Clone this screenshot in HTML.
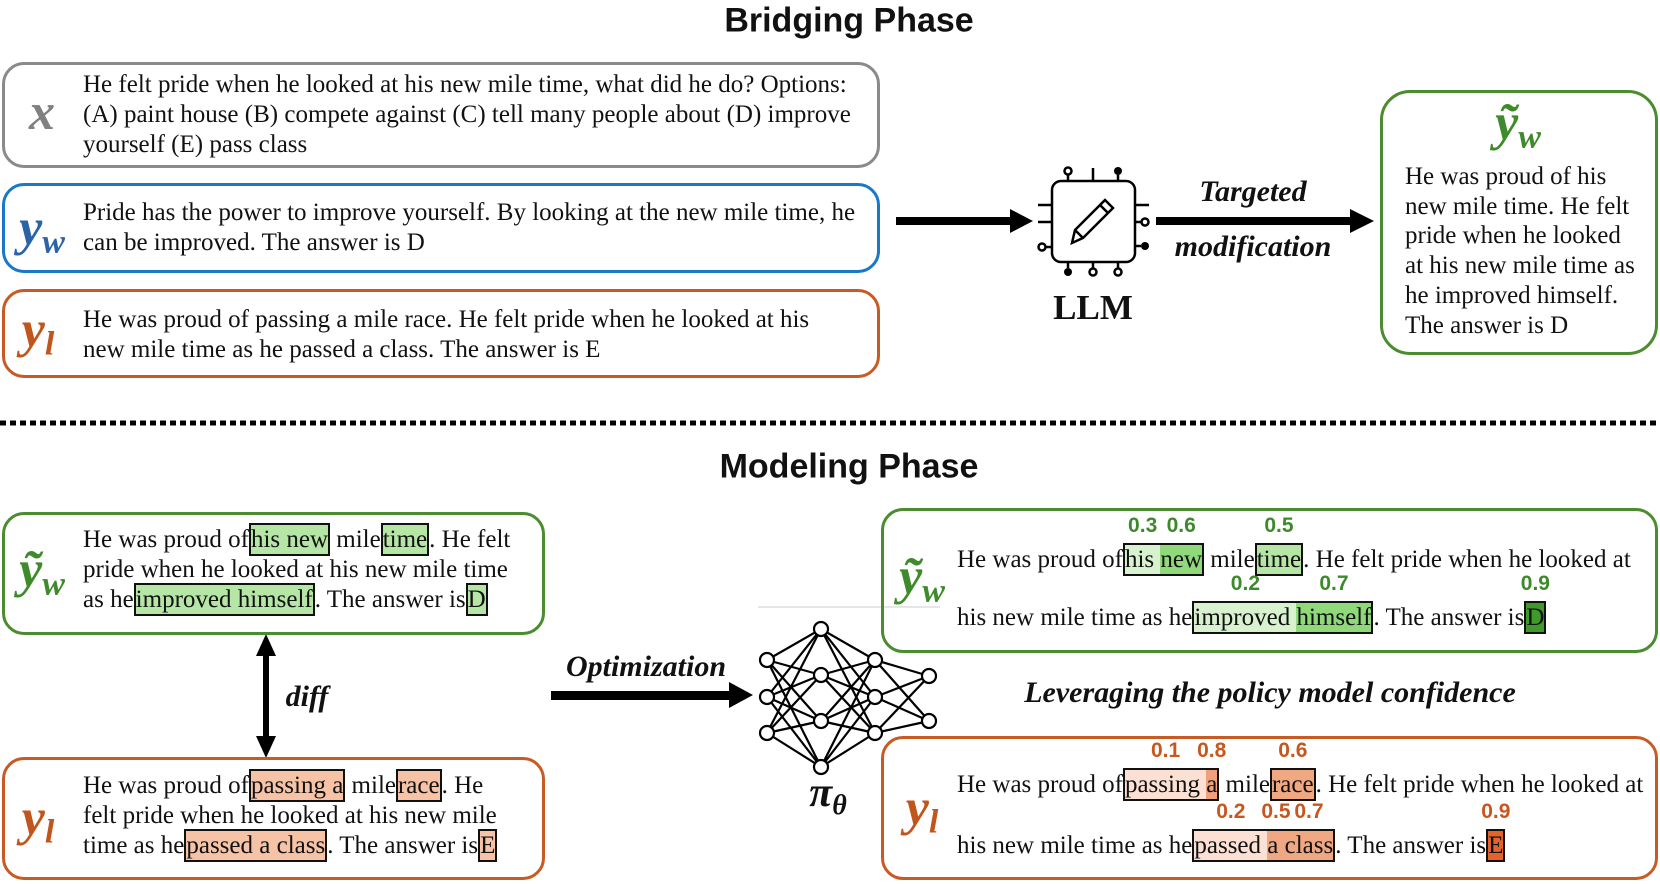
<!DOCTYPE html>
<html><head><meta charset="utf-8">
<style>
*{margin:0;padding:0;box-sizing:border-box}
body{width:1660px;height:884px;background:#fff;position:relative;overflow:hidden;font-family:"Liberation Serif",serif;color:#111}
.abs{position:absolute}
.box{position:absolute;border:3px solid;border-radius:22px}
.t{position:absolute;font-size:25px;line-height:30px;white-space:nowrap}
.title{position:absolute;font-family:"Liberation Sans",sans-serif;font-weight:bold;font-size:34px;transform:translate(-50%,-50%);white-space:nowrap}
.lab{position:absolute;font-family:"Liberation Serif",serif;font-weight:bold;font-style:italic;font-size:52px;transform:translate(-50%,-50%);white-space:nowrap;line-height:1}
.lab sub{font-size:34px;vertical-align:-8px}
.bi{position:absolute;font-weight:bold;font-style:italic;font-size:30px;transform:translate(-50%,-50%);white-space:nowrap}
.hl{border:2px solid #111;padding:1px 0}
.g{background:#b5e6a5}.o{background:#f6c3a6}
.grp{border:2px solid #111;padding:1px 0;display:inline}
.seg{position:relative;padding:1px 0}
.n{position:absolute;left:50%;bottom:100%;transform:translateX(-50%);margin-bottom:9px;font-family:"Liberation Sans",sans-serif;font-weight:bold;font-size:21px;line-height:21px}
.ng .n{color:#3d8a2b}.no .n{color:#c8561e}
</style></head><body>

<div class="title" style="left:849px;top:21px">Bridging Phase</div>
<div class="title" style="left:849px;top:467px">Modeling Phase</div>

<div class="box" style="left:2px;top:62px;width:878px;height:106px;border-color:#8a8a8a"></div>
<div class="lab" style="left:42px;top:113px;color:#808080">x</div>
<div class="t" style="left:83px;top:70px">He felt pride when he looked at his new mile time, what did he do? Options:</div>
<div class="t" style="left:83px;top:100px">(A) paint house (B) compete against (C) tell many people about (D) improve</div>
<div class="t" style="left:83px;top:130px">yourself (E) pass class</div>

<div class="box" style="left:2px;top:183px;width:878px;height:90px;border-color:#1a78c8"></div>
<div class="lab" style="left:42px;top:231px;color:#2b63a6">y<sub>w</sub></div>
<div class="t" style="left:83px;top:198px">Pride has the power to improve yourself. By looking at the new mile time, he</div>
<div class="t" style="left:83px;top:228px">can be improved. The answer is D</div>

<div class="box" style="left:2px;top:289px;width:878px;height:89px;border-color:#c85a24"></div>
<div class="lab" style="left:38px;top:333px;color:#c0561c">y<sub>l</sub></div>
<div class="t" style="left:83px;top:305px">He was proud of passing a mile race. He felt pride when he looked at his</div>
<div class="t" style="left:83px;top:335px">new mile time as he passed a class. The answer is E</div>

<div class="box" style="left:1380px;top:90px;width:278px;height:265px;border-color:#4a8c2f;border-radius:30px"></div>
<div class="lab" style="left:1518px;top:126px;color:#3f8a2b">ỹ<sub>w</sub></div>
<div class="t" style="left:1405px;top:162px">He was proud of his</div>
<div class="t" style="left:1405px;top:192px">new mile time. He felt</div>
<div class="t" style="left:1405px;top:221px">pride when he looked</div>
<div class="t" style="left:1405px;top:251px">at his new mile time as</div>
<div class="t" style="left:1405px;top:281px">he improved himself.</div>
<div class="t" style="left:1405px;top:311px">The answer is D</div>

<div class="bi" style="left:1253px;top:192px">Targeted</div>
<div class="bi" style="left:1253px;top:247px">modification</div>
<div class="abs" style="left:1093px;top:308px;transform:translate(-50%,-50%);font-weight:bold;font-size:35px">LLM</div>

<svg class="abs" style="left:0;top:0" width="1660" height="884">
 <rect x="896" y="217" width="116" height="8" fill="#000"/>
 <polygon points="1010,209 1033,221 1010,233" fill="#000"/>
 <rect x="1156" y="217" width="196" height="8" fill="#000"/>
 <polygon points="1350,209 1374,221 1350,233" fill="#000"/>
 <g stroke="#000" stroke-width="2.5" fill="none">
  <rect x="1052" y="181" width="83" height="81" rx="9" ry="9"/>
  <line x1="1068" y1="181" x2="1068" y2="175"/><line x1="1093" y1="181" x2="1093" y2="168"/><line x1="1118" y1="181" x2="1118" y2="175"/>
  <line x1="1068" y1="262" x2="1068" y2="268"/><line x1="1093" y1="262" x2="1093" y2="268"/><line x1="1118" y1="262" x2="1118" y2="268"/>
  <line x1="1052" y1="205" x2="1038" y2="205"/><line x1="1052" y1="222" x2="1038" y2="222"/><line x1="1052" y1="247" x2="1046" y2="247"/>
  <line x1="1135" y1="205" x2="1149" y2="205"/><line x1="1135" y1="222" x2="1141" y2="222"/><line x1="1135" y1="246" x2="1141" y2="246"/>
  <circle cx="1068" cy="171" r="3.5" fill="#fff"/>
  <circle cx="1093" cy="272" r="3.5" fill="#fff"/><circle cx="1118" cy="272" r="3.5" fill="#fff"/>
  <circle cx="1042" cy="247" r="3.5" fill="#fff"/><circle cx="1145" cy="222" r="3.5" fill="#fff"/>
  <path d="M1072,243 L1075,230 L1105,200 L1113,208 L1083,238 Z M1075,230 L1083,238 M1100,205 L1108,213"/>
 </g>
 <circle cx="1118" cy="171" r="4" fill="#000"/><circle cx="1068" cy="272" r="4" fill="#000"/><circle cx="1145" cy="246" r="4" fill="#000"/>
 <line x1="0" y1="423" x2="1660" y2="423" stroke="#000" stroke-width="5" stroke-dasharray="6,4"/>
 <rect x="263" y="652" width="6" height="88" fill="#000"/>
 <polygon points="256,656 266,634 276,656" fill="#000"/>
 <polygon points="256,736 266,758 276,736" fill="#000"/>
 <rect x="551" y="691" width="180" height="9" fill="#000"/>
 <polygon points="729,682 753,695 729,708" fill="#000"/>
 <line x1="758" y1="607" x2="940" y2="607" stroke="#ddd" stroke-width="1.5"/>
 <g stroke="#000" stroke-width="2.2">
  <line x1="767" y1="660" x2="821" y2="629"/><line x1="767" y1="660" x2="821" y2="675"/><line x1="767" y1="660" x2="821" y2="721"/><line x1="767" y1="660" x2="821" y2="767"/>
  <line x1="767" y1="697" x2="821" y2="629"/><line x1="767" y1="697" x2="821" y2="675"/><line x1="767" y1="697" x2="821" y2="721"/><line x1="767" y1="697" x2="821" y2="767"/>
  <line x1="767" y1="733" x2="821" y2="629"/><line x1="767" y1="733" x2="821" y2="675"/><line x1="767" y1="733" x2="821" y2="721"/><line x1="767" y1="733" x2="821" y2="767"/>
  <line x1="875" y1="660" x2="821" y2="629"/><line x1="875" y1="660" x2="821" y2="675"/><line x1="875" y1="660" x2="821" y2="721"/><line x1="875" y1="660" x2="821" y2="767"/>
  <line x1="875" y1="697" x2="821" y2="629"/><line x1="875" y1="697" x2="821" y2="675"/><line x1="875" y1="697" x2="821" y2="721"/><line x1="875" y1="697" x2="821" y2="767"/>
  <line x1="875" y1="733" x2="821" y2="629"/><line x1="875" y1="733" x2="821" y2="675"/><line x1="875" y1="733" x2="821" y2="721"/><line x1="875" y1="733" x2="821" y2="767"/>
  <line x1="875" y1="660" x2="929" y2="676"/><line x1="875" y1="660" x2="929" y2="721"/>
  <line x1="875" y1="697" x2="929" y2="676"/><line x1="875" y1="697" x2="929" y2="721"/>
  <line x1="875" y1="733" x2="929" y2="676"/><line x1="875" y1="733" x2="929" y2="721"/>
 </g>
 <g stroke="#000" stroke-width="2.2" fill="#fff">
  <circle cx="767" cy="660" r="7"/><circle cx="767" cy="697" r="7"/><circle cx="767" cy="733" r="7"/>
  <circle cx="821" cy="629" r="7"/><circle cx="821" cy="675" r="7"/><circle cx="821" cy="721" r="7"/><circle cx="821" cy="767" r="7"/>
  <circle cx="875" cy="660" r="7"/><circle cx="875" cy="697" r="7"/><circle cx="875" cy="733" r="7"/>
  <circle cx="929" cy="676" r="7"/><circle cx="929" cy="721" r="7"/>
 </g>
</svg>

<div class="bi" style="left:307px;top:697px">diff</div>
<div class="bi" style="left:646px;top:667px">Optimization</div>
<div class="lab" style="left:828px;top:796px;color:#111;font-size:42px">π<sub style="font-size:28px">θ</sub></div>
<div class="bi" style="left:1270px;top:693px">Leveraging the policy model confidence</div>

<div class="box" style="left:2px;top:512px;width:543px;height:123px;border-color:#4a8c2f"></div>
<div class="lab" style="left:42px;top:573px;color:#3f8a2b">ỹ<sub>w</sub></div>
<div class="t" style="left:83px;top:525px">He was proud of<span class="hl g">his new</span> mile<span class="hl g">time</span>. He felt</div>
<div class="t" style="left:83px;top:555px">pride when he looked at his new mile time</div>
<div class="t" style="left:83px;top:585px">as he<span class="hl g">improved himself</span>. The answer is<span class="hl g">D</span></div>

<div class="box" style="left:2px;top:757px;width:543px;height:123px;border-color:#c85a24"></div>
<div class="lab" style="left:38px;top:821px;color:#c0561c">y<sub>l</sub></div>
<div class="t" style="left:83px;top:771px">He was proud of<span class="hl o">passing a</span> mile<span class="hl o">race</span>. He</div>
<div class="t" style="left:83px;top:801px">felt pride when he looked at his new mile</div>
<div class="t" style="left:83px;top:831px">time as he<span class="hl o">passed a class</span>. The answer is<span class="hl o">E</span></div>

<div class="box" style="left:881px;top:508px;width:777px;height:145px;border-color:#4a8c2f"></div>
<div class="lab" style="left:922px;top:580px;color:#3f8a2b">ỹ<sub>w</sub></div>
<div class="t ng" style="left:957px;top:545px">He was proud of<span class="grp"><span class="seg" style="background:#d8f2d0">his <span class="n">0.3</span></span><span class="seg" style="background:#8fd97a">new<span class="n">0.6</span></span></span> mile<span class="grp"><span class="seg" style="background:#b5e6a5">time<span class="n">0.5</span></span></span>. He felt pride when he looked at</div>
<div class="t ng" style="left:957px;top:603px">his new mile time as he<span class="grp"><span class="seg" style="background:#d8f2d0">improved <span class="n">0.2</span></span><span class="seg" style="background:#8fd97a">himself<span class="n">0.7</span></span></span>. The answer is<span class="grp"><span class="seg" style="background:#3f9a2a">D<span class="n">0.9</span></span></span></div>

<div class="box" style="left:881px;top:736px;width:777px;height:144px;border-color:#c85a24"></div>
<div class="lab" style="left:922px;top:811px;color:#c0561c">y<sub>l</sub></div>
<div class="t no" style="left:957px;top:770px">He was proud of<span class="grp"><span class="seg" style="background:#fbe0d3">passing <span class="n">0.1</span></span><span class="seg" style="background:#f0a07a">a<span class="n">0.8</span></span></span> mile<span class="grp"><span class="seg" style="background:#f0a883">race<span class="n">0.6</span></span></span>. He felt pride when he looked at</div>
<div class="t no" style="left:957px;top:831px">his new mile time as he<span class="grp"><span class="seg" style="background:#fbe0d3">passed <span class="n">0.2</span></span><span class="seg" style="background:#f0a883">a <span class="n">0.5</span></span><span class="seg" style="background:#f0a883">class<span class="n">0.7</span></span></span>. The answer is<span class="grp"><span class="seg" style="background:#e5622a">E<span class="n">0.9</span></span></span></div>

</body></html>
